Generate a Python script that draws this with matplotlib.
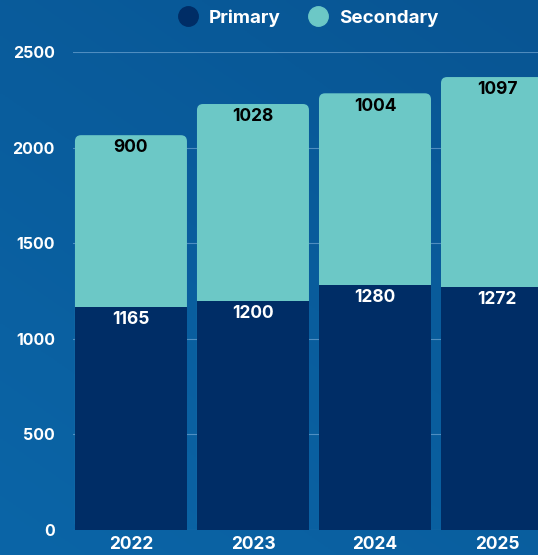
import numpy as np
import matplotlib.pyplot as plt
from matplotlib.patches import FancyBboxPatch
from matplotlib.lines import Line2D

years = ["2022", "2023", "2024", "2025"]
primary = [1165, 1200, 1280, 1272]
secondary = [900, 1028, 1004, 1097]

c_primary = "#002d66"
c_secondary = "#6cc8c6"

plt.rcParams['font.family'] = ['Inter', 'DejaVu Sans']
plt.rcParams['font.weight'] = 'bold'

fig = plt.figure(figsize=(5.38, 5.55), dpi=100)

# background gradient
bg = fig.add_axes([0, 0, 1, 1], zorder=-10)
gy, gx = np.mgrid[0:1:200j, 0:1:200j]
t = 0.6 * gy + 0.4 * (1 - gx)
top = np.array([0x08, 0x55, 0x93]) / 255
bot = np.array([0x0b, 0x65, 0xa7]) / 255
img = top[None, None, :] * (1 - t[..., None]) + bot[None, None, :] * t[..., None]
bg.imshow(img, aspect='auto', extent=[0, 1, 0, 1], origin='upper')
bg.axis('off')

ax = fig.add_axes([73 / 538, 25 / 555, 1 - 73 / 538, 478 / 555])
ax.patch.set_alpha(0)
x = np.arange(len(years))
totals = [p + s for p, s in zip(primary, secondary)]
width = 0.918

# secondary drawn full height with rounded top, primary on top of it
sec_bars = ax.bar(x, totals, width=width, color=c_secondary, zorder=2)
for r in sec_bars:
    r.set_visible(False)
    ax.add_patch(FancyBboxPatch((r.get_x(), r.get_y()), r.get_width(), r.get_height(),
                                boxstyle="round,pad=0,rounding_size=0.05",
                                mutation_aspect=640, facecolor=c_secondary,
                                edgecolor='none', zorder=2))
ax.bar(x, primary, width=width, color=c_primary, zorder=3)

for i in range(len(years)):
    ax.text(x[i], primary[i] - 22, str(primary[i]), ha='center', va='top',
            color='white', fontsize=12.5, fontweight='bold', zorder=5)
    ax.text(x[i], totals[i] - 22, str(secondary[i]), ha='center', va='top',
            color='black', fontsize=12.5, fontweight='bold', zorder=5)

ax.set_xlim(-0.475, 3.336)
ax.set_ylim(0, 2500)
ax.set_yticks([0, 500, 1000, 1500, 2000, 2500])
ax.set_xticks(x)
ax.set_xticklabels(years)
ax.grid(axis='y', color='#7fb0da', linewidth=0.8, alpha=0.6, zorder=0)
ax.set_axisbelow(True)
for s in ax.spines.values():
    s.set_visible(False)
ax.tick_params(axis='y', length=0, colors='white', labelsize=11.5, pad=13)
ax.tick_params(axis='x', length=0, colors='white', labelsize=12.5, pad=4.5)
for lab in ax.get_xticklabels() + ax.get_yticklabels():
    lab.set_fontweight('bold')

handles = [Line2D([], [], marker='o', linestyle='none', markersize=14, color=c_primary),
           Line2D([], [], marker='o', linestyle='none', markersize=14, color=c_secondary)]
fig.legend(handles, ["Primary", "Secondary"], loc='center', bbox_to_anchor=(0.565, 0.968),
           ncol=2, frameon=False, labelcolor='white', handletextpad=0.1,
           columnspacing=1.0, prop={'size': 13.5, 'weight': 'bold'})

fig.savefig("out.png", dpi=100)
